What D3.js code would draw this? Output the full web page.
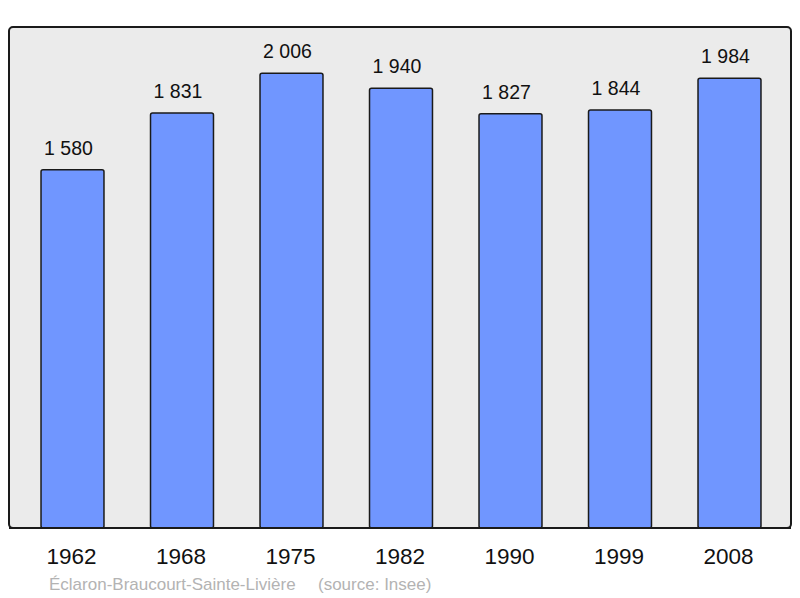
<!DOCTYPE html>
<html><head><meta charset="utf-8">
<script src="https://cdn.jsdelivr.net/npm/d3@7"></script>
<style>body{margin:0;background:#fff}svg{display:block}</style>
</head><body>
<svg id="c" width="800" height="598"></svg>
<script>
const years = ["1962","1968","1975","1982","1990","1999","2008"];
const population = [1580,1831,2006,1940,1827,1844,1984];
const valueLabels = ["1 580","1 831","2 006","1 940","1 827","1 844","1 984"];
const footerName = "Éclaron-Braucourt-Sainte-Livière";
const footerSource = "(source: Insee)";

const svg = d3.select("#c");
const plot = {x0: 9, x1: 791, y0: 27, y1: 528};
const font = "Liberation Sans, Arial, sans-serif";

svg.append("rect").attr("x", plot.x0).attr("y", plot.y0)
  .attr("width", plot.x1 - plot.x0).attr("height", plot.y1 - plot.y0)
  .attr("rx", 4).attr("fill", "#ebebeb").attr("stroke", "#1a1a1a").attr("stroke-width", 2);

const x = d3.scaleBand().domain(years).range([17.75, 784.25]).paddingInner(0.425).paddingOuter(0.2125);
const y = d3.scaleLinear().domain([0, 2210]).range([plot.y1, plot.y0]);

const g = svg.append("g");
g.selectAll("rect.bar").data(years).join("rect").attr("class","bar")
  .attr("x", d => x(d)).attr("width", x.bandwidth())
  .attr("y", (d,i) => y(population[i])).attr("height", (d,i) => y(0) - y(population[i]))
  .attr("rx", 2)
  .attr("fill", "#7096ff").attr("stroke", "#1a1a1a").attr("stroke-width", 1.5);

g.selectAll("text.val").data(years).join("text").attr("class","val")
  .attr("x", d => x(d) + x.bandwidth()/2 - 4)
  .attr("y", (d,i) => y(population[i]) - 15)
  .attr("text-anchor","middle").attr("font-family", font)
  .attr("font-size", 19.5).attr("fill","#111")
  .text((d,i) => valueLabels[i]);

svg.append("line").attr("x1", plot.x0).attr("x2", plot.x1).attr("y1", plot.y1).attr("y2", plot.y1)
  .attr("stroke","#1a1a1a").attr("stroke-width",2);

const xAxis = d3.axisBottom(x).tickSize(0).tickPadding(0);
const ax = svg.append("g").attr("transform", `translate(0,${plot.y1})`).call(xAxis);
ax.select(".domain").remove();
ax.selectAll("text").attr("y", 36).attr("dy", null).attr("dx", -1)
  .attr("font-family", font).attr("font-size", 22.5).attr("fill","#111");

svg.append("text").attr("x", 49).attr("y", 590)
  .attr("font-family", font).attr("font-size", 17)
  .attr("fill","#b3b3b3").text(footerName);
svg.append("text").attr("x", 318).attr("y", 590)
  .attr("font-family", font).attr("font-size", 17)
  .attr("fill","#b3b3b3").text(footerSource);
</script>
</body></html>
